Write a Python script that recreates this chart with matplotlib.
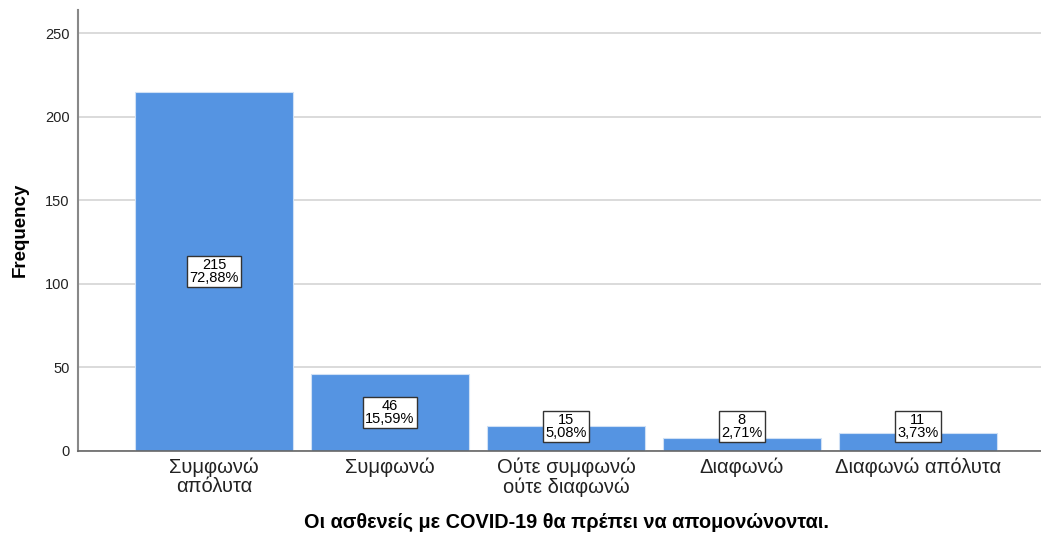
import matplotlib
matplotlib.use("Agg")
import matplotlib.pyplot as plt

categories = ["Συμφωνώ\nαπόλυτα", "Συμφωνώ", "Ούτε συμφωνώ\nούτε διαφωνώ", "Διαφωνώ", "Διαφωνώ απόλυτα"]
counts = [215, 46, 15, 8, 11]
percents = ["72,88%", "15,59%", "5,08%", "2,71%", "3,73%"]
yticks = [0, 50, 100, 150, 200, 250]

plt.rcParams["font.family"] = ["Liberation Sans", "DejaVu Sans"]

fig = plt.figure(figsize=(10.41, 5.34), dpi=100)
ax = fig.add_axes([78 / 1041, 1 - 451 / 534, (1041 - 78) / 1041, (451 - 10) / 534])

x = list(range(len(categories)))
ax.bar(x, counts, width=0.9, color="#5594e2", edgecolor="#cfe0f5", linewidth=0.8, zorder=2)

ax.set_xlim(-0.773, 4.70)
ax.set_ylim(0, 264)
ax.set_yticks(yticks)
ax.set_xticks(x)
ax.set_xticklabels(categories, fontsize=14.5, color="#222222", linespacing=1.0)
ax.tick_params(axis="y", length=0, labelsize=10.5, colors="#222222", pad=6)
ax.tick_params(axis="x", length=0, pad=5)
ax.grid(axis="y", color="#d4d4d4", linewidth=1.2, zorder=0)

for s in ["top", "right"]:
    ax.spines[s].set_visible(False)
ax.spines["left"].set_color("#888888")
ax.spines["left"].set_linewidth(1.5)
ax.spines["bottom"].set_color("#666666")
ax.spines["bottom"].set_linewidth(1.2)

for xi, c, p in zip(x, counts, percents):
    ypos = max(c / 2, 14.5)
    ax.text(xi, ypos, f"{c}\n{p}", ha="center", va="center", fontsize=10.5,
            linespacing=0.9, color="black", zorder=3,
            bbox=dict(boxstyle="square,pad=0.15", facecolor="white",
                      edgecolor="#333333", linewidth=1.0))

ax.set_ylabel("Frequency", fontsize=13.5, fontweight="bold")
ax.yaxis.set_label_coords(-(78 - 29) / (1041 - 78), (451 - 230) / (451 - 10))
ax.set_xlabel("Οι ασθενείς με COVID-19 θα πρέπει να απομονώνονται.", fontsize=14.3,
              fontweight="bold", va="center")
ax.xaxis.set_label_coords((566 - 78) / (1041 - 78), -(522 - 451) / (451 - 10))

fig.savefig("out.png", dpi=100)
